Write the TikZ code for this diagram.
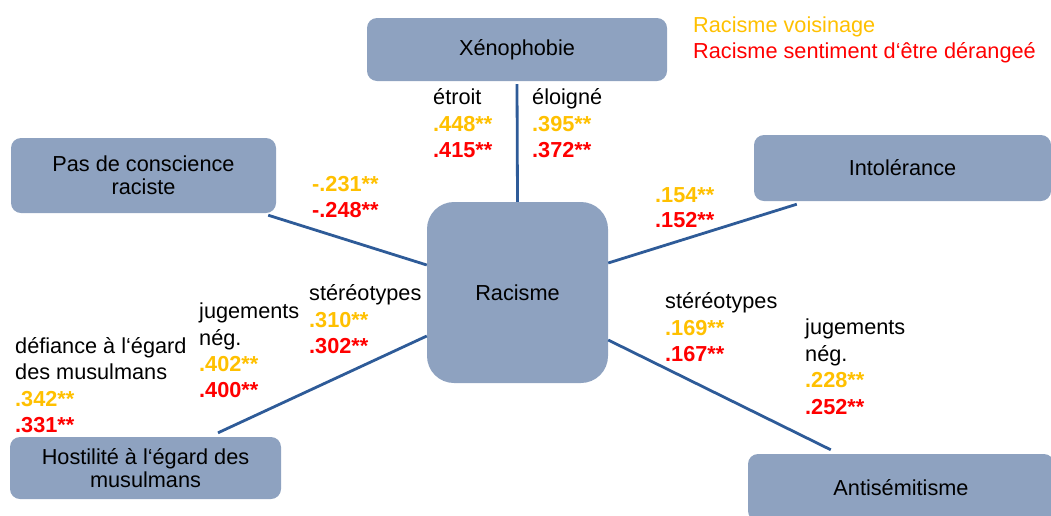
\documentclass[tikz,border=0pt]{standalone}
\usepackage{fontspec}
\setmainfont{Liberation Sans}
\definecolor{boxc}{RGB}{142,162,192}
\definecolor{linec}{RGB}{46,91,152}
\definecolor{orangec}{RGB}{255,192,0}
\definecolor{redc}{RGB}{255,0,0}
\begin{document}
\begin{tikzpicture}[x=1pt,y=-1pt,
  box/.style={fill=boxc, rounded corners=10pt, inner sep=0pt, align=center,
    font=\fontsize{21.7}{22.6}\selectfont},
  conn/.style={draw=linec, line width=2.8pt},
  lab/.style={anchor=base west, inner sep=0pt, font=\fontsize{21.7}{26}\selectfont},
  numo/.style={lab, text=orangec, font=\fontsize{21.7}{26}\selectfont\bfseries},
  numr/.style={lab, text=redc, font=\fontsize{21.7}{26}\selectfont\bfseries}]
\useasboundingbox (0,0) rectangle (1051,515);
\clip (0,0) rectangle (1051,515);
% boxes
\node[box, minimum width=300pt, minimum height=63pt] (xen) at (517,49.5) {Xénophobie};
\node[box, minimum width=265pt, minimum height=75pt] (pas) at (143.5,175.5) {Pas de conscience\\raciste};
\node[box, minimum width=297pt, minimum height=66pt] (int) at (902.5,168) {Intolérance};
\node[box, rounded corners=27pt, minimum width=181pt, minimum height=181pt] (rac) at (517.5,292.5) {Racisme};
\node[box, minimum width=271pt, minimum height=62pt] (hos) at (145.5,468) {Hostilité à l‘égard des\\musulmans};
\node[box, minimum width=306pt, minimum height=67pt] (ant) at (901,487.5) {Antisémitisme};
% connectors
\draw[conn] ([yshift=-3pt]xen.south) -- (rac.north);
\draw[conn] ([xshift=-8pt,yshift=-2pt]pas.south east) -- ([yshift=27.5pt]rac.west);
\draw[conn] ([xshift=43pt,yshift=-3pt]int.south west) -- ([yshift=29.5pt]rac.east);
\draw[conn] ([xshift=72.5pt,yshift=4pt]hos.north) -- ([yshift=-43.5pt]rac.west);
\draw[conn] ([yshift=-47.5pt]rac.east) -- ([xshift=83pt,yshift=4pt]ant.north west);
% legend
\node[lab, text=orangec] (leg1) at (693,32) {Racisme voisinage};
\node[lab, text=redc] (leg2) at (693,58) {Racisme sentiment d‘être dérangeé};
% Xenophobie labels
\node[lab] (et) at (433,104) {étroit};
\node[numo] (et1) at (433,131) {.448**};
\node[numr] (et2) at (433,157) {.415**};
\node[lab] (el) at (532,104) {éloigné};
\node[numo] (el1) at (532,131) {.395**};
\node[numr] (el2) at (532,157) {.372**};
% Pas de conscience
\node[numo] (pa1) at (312,191) {-.231**};
\node[numr] (pa2) at (312,217) {-.248**};
% Intolerance
\node[numo] (in1) at (655,202) {.154**};
\node[numr] (in2) at (655,227) {.152**};
% Hostilite labels
\node[lab] (st) at (309,300) {stéréotypes};
\node[numo] (st1) at (309,327) {.310**};
\node[numr] (st2) at (309,353) {.302**};
\node[lab] (ju) at (199,318) {jugements};
\node[lab] (jub) at (199,345) {nég.};
\node[numo] (ju1) at (199,371) {.402**};
\node[numr] (ju2) at (199,397) {.400**};
\node[lab] (de) at (15,353) {défiance à l‘égard};
\node[lab] (deb) at (15,379) {des musulmans};
\node[numo] (de1) at (15,406) {.342**};
\node[numr] (de2) at (15,432) {.331**};
% Antisemitisme labels
\node[lab] (ast) at (665,308) {stéréotypes};
\node[numo] (ast1) at (665,335) {.169**};
\node[numr] (ast2) at (665,361) {.167**};
\node[lab] (aju) at (805,334) {jugements};
\node[lab] (ajub) at (805,361) {nég.};
\node[numo] (aju1) at (805,387) {.228**};
\node[numr] (aju2) at (805,414) {.252**};
\end{tikzpicture}
\end{document}
